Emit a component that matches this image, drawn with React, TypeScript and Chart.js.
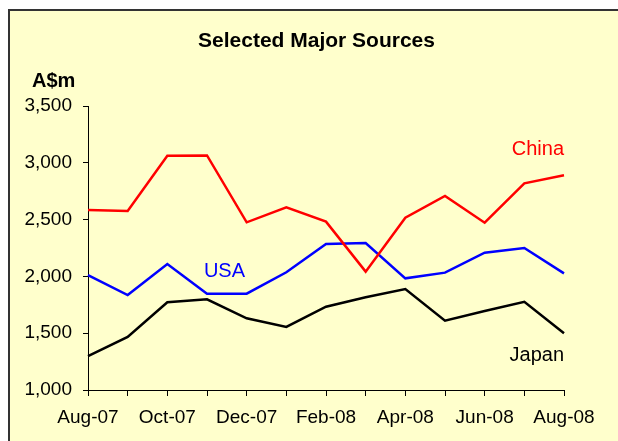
import React, { useEffect, useRef } from "react";
import { Chart, registerables } from "chart.js";

Chart.register(...registerables);

const months = ["Aug-07", "Sep-07", "Oct-07", "Nov-07", "Dec-07", "Jan-08", "Feb-08", "Mar-08", "Apr-08", "May-08", "Jun-08", "Jul-08", "Aug-08"];
const china = [2585, 2575, 3062, 3065, 2476, 2608, 2482, 2042, 2517, 2708, 2473, 2819, 2890];
const usa = [2012, 1836, 2109, 1848, 1848, 2036, 2285, 2294, 1983, 2033, 2209, 2250, 2027];
const japan = [1299, 1467, 1772, 1798, 1631, 1555, 1733, 1816, 1889, 1610, 1695, 1777, 1499];
const yTicks = [1000, 1500, 2000, 2500, 3000, 3500];

const FONT = "'Liberation Sans', Arial, sans-serif";

const framePlugin = {
  id: "frame",
  beforeDraw(chart: any) {
    const ctx = chart.ctx;
    const w = chart.width;
    const h = chart.height;
    ctx.save();
    ctx.fillStyle = "#ffffff";
    ctx.fillRect(0, 0, w, h);
    ctx.fillStyle = "#FFFFCC";
    ctx.fillRect(0, 1, w, h);
    ctx.fillStyle = "#333333";
    ctx.fillRect(0, 1, w, 2);
    ctx.fillRect(0, 1, 2, h);
    ctx.restore();
  },
  afterDraw(chart: any) {
    const ctx = chart.ctx;
    const x = chart.scales.x;
    const y = chart.scales.y;
    ctx.save();
    ctx.textBaseline = "middle";
    ctx.fillStyle = "#000";
    ctx.font = `bold 21px ${FONT}`;
    ctx.textAlign = "center";
    ctx.fillText("Selected Major Sources", 308.5, 33);
    ctx.font = `bold 20px ${FONT}`;
    ctx.textAlign = "left";
    ctx.fillText("A$m", 24, 73);
    ctx.font = `20px ${FONT}`;
    ctx.textAlign = "right";
    ctx.fillStyle = "#FF0000";
    ctx.fillText("China", x.getPixelForValue(12), y.getPixelForValue(3113));
    ctx.fillStyle = "#000000";
    ctx.fillText("Japan", x.getPixelForValue(12), y.getPixelForValue(1308));
    ctx.textAlign = "center";
    ctx.fillStyle = "#0000FF";
    ctx.fillText("USA", x.getPixelForValue(3) + 0.44 * (x.getPixelForValue(4) - x.getPixelForValue(3)), y.getPixelForValue(2047));
    ctx.restore();
  },
};

export default function App() {
  const ref = useRef<HTMLCanvasElement>(null);
  useEffect(() => {
    document.body.style.margin = "0";
    document.body.style.overflow = "hidden";
    if (!ref.current) return;
    const chart = new Chart(ref.current, {
      type: "line",
      data: {
        labels: months,
        datasets: [
          { label: "China", data: china, borderColor: "#FF0000", borderWidth: 2.5, pointRadius: 0, tension: 0 },
          { label: "USA", data: usa, borderColor: "#0000FF", borderWidth: 2.5, pointRadius: 0, tension: 0 },
          { label: "Japan", data: japan, borderColor: "#000000", borderWidth: 2.5, pointRadius: 0, tension: 0 },
        ],
      },
      options: {
        animation: false,
        responsive: false,
        layout: { padding: { top: 98, right: 54, left: 0, bottom: 0 } },
        plugins: { legend: { display: false }, tooltip: { enabled: false }, title: { display: false } },
        scales: {
          x: {
            type: "category",
            offset: false,
            grid: { display: true, drawOnChartArea: false, drawTicks: true, tickLength: 6, color: "#000" },
            border: { display: true, color: "#000", width: 1 },
            ticks: {
              autoSkip: false,
              maxRotation: 0,
              minRotation: 0,
              padding: 10,
              color: "#000",
              font: { family: FONT, size: 19 },
              callback: (_v: any, i: number) => (i % 2 === 0 ? months[i] : ""),
            },
            afterFit: (s: any) => { s.height = 51; },
          },
          y: {
            min: 1000,
            max: 3500,
            afterBuildTicks: (s: any) => { s.ticks = yTicks.map((v) => ({ value: v })); },
            grid: { display: true, drawOnChartArea: false, drawTicks: true, tickLength: 5, color: "#000" },
            border: { display: true, color: "#000", width: 1 },
            ticks: {
              padding: 11,
              color: "#000",
              font: { family: FONT, size: 19 },
              callback: (v: any) => Number(v).toLocaleString("en-US"),
            },
            afterFit: (s: any) => { s.width = 80; },
          },
        },
      },
      plugins: [framePlugin],
    });
    return () => chart.destroy();
  }, []);
  return (
    <div style={{ width: 618, height: 441, overflow: "hidden", background: "#fff" }}>
      <canvas ref={ref} width={610} height={433} style={{ display: "block", marginLeft: 8, marginTop: 8 }} />
    </div>
  );
}
